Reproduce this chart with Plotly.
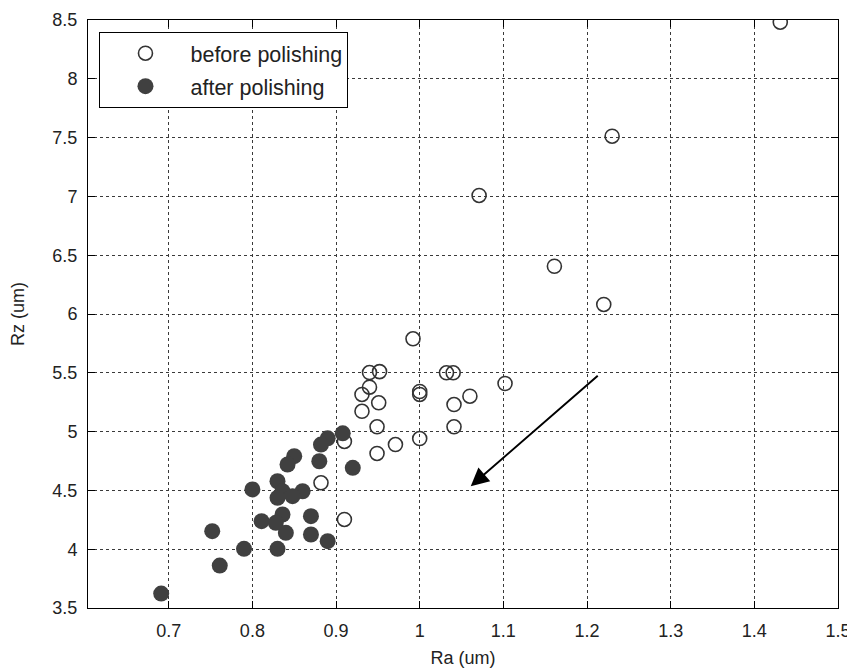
import plotly.graph_objects as go

# before polishing (open circles)
before_ra = [1.431, 1.230, 1.071, 1.161, 1.220, 0.992, 0.940, 0.952, 1.032, 1.040,
             1.102, 0.940, 0.931, 1.000, 1.000, 0.951, 1.060, 1.041, 0.931, 0.949,
             1.041, 1.000, 0.971, 0.949, 0.910, 0.882, 0.910]
before_rz = [8.481, 7.512, 7.008, 6.406, 6.081, 5.789, 5.502, 5.510, 5.500, 5.500,
             5.409, 5.378, 5.316, 5.341, 5.316, 5.245, 5.301, 5.230, 5.173, 5.041,
             5.041, 4.941, 4.890, 4.814, 4.916, 4.565, 4.253]

# after polishing (filled circles)
after_ra = [0.908, 0.890, 0.882, 0.880, 0.920, 0.850, 0.842, 0.830, 0.800, 0.836,
            0.860, 0.848, 0.830, 0.836, 0.870, 0.828, 0.811, 0.752, 0.840, 0.870,
            0.890, 0.790, 0.830, 0.761, 0.691]
after_rz = [4.985, 4.943, 4.890, 4.748, 4.692, 4.791, 4.720, 4.578, 4.508, 4.493,
            4.493, 4.451, 4.437, 4.295, 4.281, 4.224, 4.238, 4.153, 4.139, 4.125,
            4.068, 4.003, 4.003, 3.861, 3.623]

x_ticks = [0.7, 0.8, 0.9, 1.0, 1.1, 1.2, 1.3, 1.4, 1.5]
x_labels = ["0.7", "0.8", "0.9", "1", "1.1", "1.2", "1.3", "1.4", "1.5"]
y_ticks = [3.5, 4, 4.5, 5, 5.5, 6, 6.5, 7, 7.5, 8, 8.5]
y_labels = ["3.5", "4", "4.5", "5", "5.5", "6", "6.5", "7", "7.5", "8", "8.5"]

arrow_start = (1.2146, 5.486)
arrow_end = (1.061, 4.536)

FONT = "Liberation Sans, Arial, sans-serif"
TXT = "#222222"

fig = go.Figure()
fig.add_trace(go.Scatter(
    x=before_ra, y=before_rz, mode="markers", name="before polishing",
    legendgroup="before",
    marker=dict(symbol="circle-open", size=14, color="#333333",
                line=dict(width=1.6, color="#333333")),
))
fig.add_trace(go.Scatter(
    x=after_ra, y=after_rz, mode="markers", name="after polishing",
    legendgroup="after",
    marker=dict(symbol="circle", size=16, color="#404040",
                line=dict(width=0)),
))

fig.add_annotation(
    x=arrow_end[0], y=arrow_end[1], ax=arrow_start[0], ay=arrow_start[1],
    xref="x", yref="y", axref="x", ayref="y", text="", showarrow=True,
    arrowhead=2, arrowsize=1.8, arrowwidth=2, arrowcolor="black",
)

axis_common = dict(
    showline=True, linecolor="black", linewidth=1, mirror="ticks",
    ticks="inside", ticklen=7, tickcolor="black", tickwidth=1,
    showgrid=True, gridcolor="#3a3a3a", gridwidth=1, griddash="3px,3px",
    zeroline=False, automargin=False,
    tickfont=dict(family=FONT, size=18, color=TXT),
)

fig.update_xaxes(
    range=[0.6035, 1.5], tickvals=x_ticks, ticktext=x_labels,
    title=dict(text="Ra (um)", font=dict(family=FONT, size=18, color=TXT), standoff=11),
    ticklabelstandoff=6,
    **axis_common,
)
fig.update_yaxes(
    range=[3.5, 8.5], tickvals=y_ticks, ticktext=y_labels,
    title=dict(text="Rz (um)", font=dict(family=FONT, size=18, color=TXT), standoff=31),
    ticklabelstandoff=6,
    **axis_common,
)

# the page body adds an 8px margin, so the figure is sized to fit the window
fig.update_layout(
    width=847, height=664,
    margin=dict(l=80, r=17, t=12, b=64),
    paper_bgcolor="white", plot_bgcolor="white",
    showlegend=True,
    legend=dict(
        x=0.0153, y=0.98, xanchor="left", yanchor="top",
        bgcolor="white", bordercolor="black", borderwidth=1,
        font=dict(family=FONT, size=21.5, color=TXT),
        itemwidth=80, tracegroupgap=2, traceorder="grouped",
    ),
)

fig.write_html("out.html")
